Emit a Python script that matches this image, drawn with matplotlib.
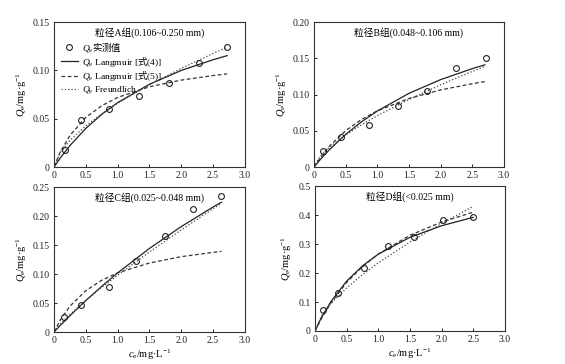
import matplotlib
matplotlib.use("Agg")
import matplotlib.pyplot as plt

plt.rcParams['font.family'] = ['Liberation Serif', 'Noto Sans CJK SC']
plt.rcParams['mathtext.fontset'] = 'custom'
plt.rcParams['mathtext.rm'] = 'Liberation Serif'
plt.rcParams['mathtext.it'] = 'Liberation Serif:italic'
plt.rcParams['mathtext.sf'] = 'Noto Sans CJK SC'

titles = ["粒径A组(0.106~0.250 mm)", "粒径B组(0.048~0.106 mm)",
          "粒径C组(0.025~0.048 mm)", "粒径D组(<0.025 mm)"]

# measured points
xA = [0.17, 0.42, 0.87, 1.33, 1.81, 2.27, 2.72]
yA = [0.0173, 0.0485, 0.060, 0.074, 0.0866, 0.108, 0.1247]
xB = [0.147, 0.426, 0.874, 1.32, 1.79, 2.25, 2.71]
yB = [0.0222, 0.0416, 0.0577, 0.084, 0.105, 0.137, 0.150]
xC = [0.157, 0.43, 0.86, 1.29, 1.74, 2.18, 2.63]
yC = [0.0253, 0.047, 0.0776, 0.123, 0.1655, 0.212, 0.234]
xD = [0.121, 0.358, 0.774, 1.158, 1.558, 2.026, 2.49]
yD = [0.0736, 0.131, 0.218, 0.294, 0.324, 0.383, 0.392]

# fitted curves
cA = [0, 0.1, 0.25, 0.5, 0.75, 1.0, 1.5, 2.0, 2.5, 2.72]
lang4A = [0, 0.0095, 0.0222, 0.0400, 0.0545, 0.0667, 0.0857, 0.1000, 0.1111, 0.1153]
lang5A = [0, 0.0157, 0.0327, 0.0514, 0.0635, 0.0720, 0.0831, 0.0900, 0.0947, 0.0964]
freuA = [0, 0.0155, 0.0276, 0.0427, 0.0551, 0.0660, 0.0852, 0.1021, 0.1176, 0.1240]

cB = [0, 0.1, 0.25, 0.5, 0.75, 1.0, 1.5, 2.0, 2.5, 2.7]
lang4B = [0, 0.0104, 0.0245, 0.0450, 0.0624, 0.0773, 0.1017, 0.1206, 0.1358, 0.1411]
lang5B = [0, 0.0131, 0.0294, 0.0502, 0.0656, 0.0775, 0.0946, 0.1064, 0.1150, 0.1179]
freuB = [0, 0.0149, 0.0277, 0.0443, 0.0583, 0.0709, 0.0933, 0.1134, 0.1320, 0.1390]

cC = [0, 0.1, 0.25, 0.5, 0.75, 1.0, 1.5, 2.0, 2.5, 2.63]
lang4C = [0, 0.0115, 0.0281, 0.0543, 0.0789, 0.1020, 0.1443, 0.1820, 0.2158, 0.2240]
lang5C = [0, 0.0210, 0.0446, 0.0714, 0.0893, 0.1021, 0.1191, 0.1300, 0.1375, 0.1391]
freuC = [0, 0.0140, 0.0303, 0.0545, 0.0768, 0.0980, 0.1381, 0.1762, 0.2128, 0.2221]

cD = [0, 0.1, 0.25, 0.5, 0.75, 1.0, 1.5, 2.0, 2.5]
lang4D = [0, 0.0452, 0.1010, 0.1720, 0.2245, 0.2650, 0.3232, 0.3632, 0.3922]
lang5D = [0, 0.0423, 0.0962, 0.1674, 0.2222, 0.2657, 0.3303, 0.3760, 0.4100]
freuD = [0, 0.0515, 0.0943, 0.1488, 0.1944, 0.2350, 0.3070, 0.3711, 0.4299]

xticks = [0, 0.5, 1.0, 1.5, 2.0, 2.5, 3.0]
xticklabels = ["0", "0.5", "1.0", "1.5", "2.0", "2.5", "3.0"]
yticksA = [0, 0.05, 0.10, 0.15]
ylabA = ["0", "0.05", "0.10", "0.15"]
yticksB = [0, 0.05, 0.10, 0.15, 0.20]
ylabB = ["0", "0.05", "0.10", "0.15", "0.20"]
yticksC = [0, 0.05, 0.10, 0.15, 0.20, 0.25]
ylabC = ["0", "0.05", "0.10", "0.15", "0.20", "0.25"]
yticksD = [0, 0.1, 0.2, 0.3, 0.4, 0.5]
ylabD = ["0", "0.1", "0.2", "0.3", "0.4", "0.5"]

fig = plt.figure(figsize=(5.65, 3.64), dpi=100)
rects = [[0.0956, 0.5412, 0.338, 0.398], [0.5558, 0.5412, 0.336, 0.398],
         [0.0956, 0.0879, 0.338, 0.398], [0.5575, 0.0907, 0.336, 0.398]]
panels = [
    (xA, yA, cA, lang4A, lang5A, freuA, yticksA, ylabA),
    (xB, yB, cB, lang4B, lang5B, freuB, yticksB, ylabB),
    (xC, yC, cC, lang4C, lang5C, freuC, yticksC, ylabC),
    (xD, yD, cD, lang4D, lang5D, freuD, yticksD, ylabD),
]
ylabel = r"$Q_{\mathrm{e}}$/mg·g$^{-1}$"
xlabel = r"$c_{\mathrm{e}}$/mg·L$^{-1}$"

for i, (r, p) in enumerate(zip(rects, panels)):
    xs, ys, cc, l4, l5, fr, yt, yl = p
    ax = fig.add_axes(r)
    ax.plot(xs, ys, 'o', mfc='none', mec='#222222', ms=4.2, mew=0.8,
            label=r"$Q_{\mathrm{e}}\mathsf{实测值}$", zorder=5)
    ax.plot(cc, l4, '-', color='#222222', lw=0.9,
            label=r"$Q_{\mathrm{e}}$ Langmuir [$\mathsf{式}$(4)]")
    ax.plot(cc, l5, '--', color='#333333', lw=0.9, dashes=(3, 2),
            label=r"$Q_{\mathrm{e}}$ Langmuir [$\mathsf{式}$(5)]")
    ax.plot(cc, fr, ':', color='#444444', lw=0.9,
            label=r"$Q_{\mathrm{e}}$ Freundlich")
    ax.set_xlim(0, 3.0)
    ax.set_ylim(yt[0], yt[-1])
    ax.set_xticks(xticks)
    ax.set_xticklabels(xticklabels)
    ax.set_yticks(yt)
    ax.set_yticklabels(yl)
    ax.tick_params(direction='in', length=2.5, width=0.7, labelsize=7, pad=3,
                   colors='#222222')
    for s in ax.spines.values():
        s.set_linewidth(0.8)
        s.set_color('#333333')
    ax.set_ylabel(ylabel, fontsize=7.5, labelpad=3)
    if i >= 2:
        ax.set_xlabel(xlabel, fontsize=7.5, labelpad=2)
    ax.text(0.5, 0.93, titles[i], transform=ax.transAxes, ha='center', va='center',
            fontsize=7)
    if i == 0:
        ax.legend(loc='upper left', bbox_to_anchor=(0.0, 0.925), frameon=False,
                  fontsize=6.8, handlelength=1.8, handletextpad=0.5,
                  labelspacing=0.1, borderaxespad=0.3)

fig.savefig("out.png", dpi=100)
